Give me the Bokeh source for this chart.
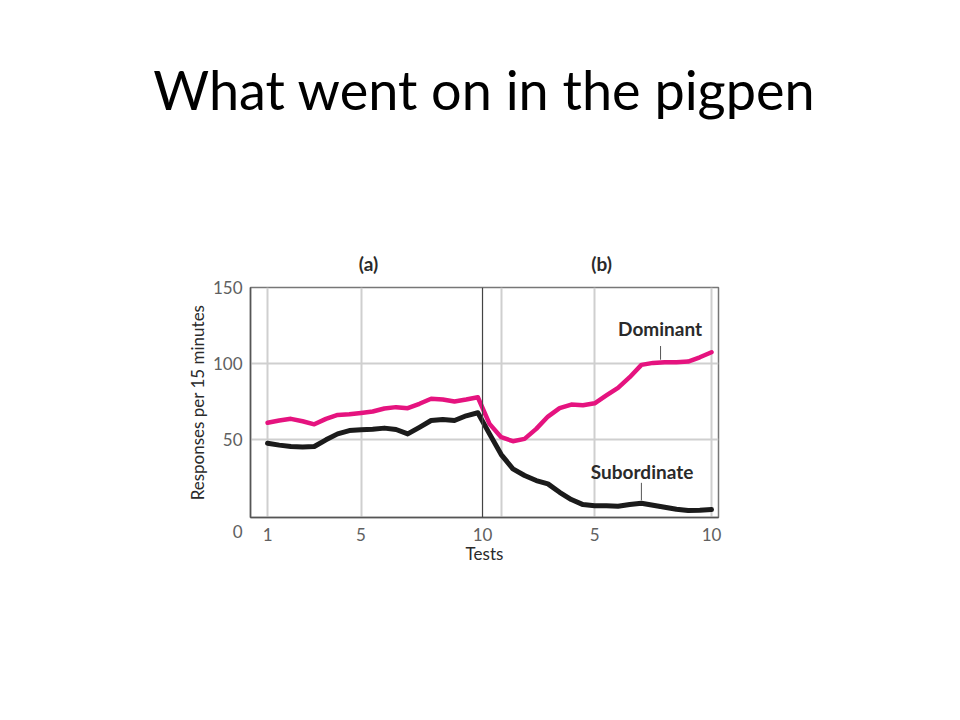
from bokeh.plotting import figure
from bokeh.models import Range1d, FixedTicker, Span, Label, ColumnDataSource, LinearAxis
from bokeh.embed import file_html
from bokeh.resources import INLINE

title_text = "What went on in the pigpen"
panel_labels = ["(a)", "(b)"]
panel_pos = [5.32, 15.3]
# positions along the test axis: (a) tests 1-10 at 1..10, (b) tests 1-10 at 11..20
test_pos = [1, 1.5, 2, 2.5, 3, 3.5, 4, 4.5, 5, 5.5, 6, 6.5, 7, 7.5, 8, 8.5, 9, 9.5, 10,
            10.5, 11, 11.5, 12, 12.5, 13, 13.5, 14, 14.5, 15, 15.5, 16, 16.5, 17, 17.5,
            18, 18.5, 19, 19.5, 20]
dominant = [61.0, 62.5, 63.6, 62.0, 60.0, 63.6, 66.2, 66.6, 67.5, 68.4, 70.4, 71.3, 70.6,
            73.5, 76.8, 76.3, 75.0, 76.3, 77.8, 60.3, 51.5, 48.9, 50.4, 57.0, 65.1, 70.6,
            73.0, 72.6, 73.8, 79.0, 84.0, 91.0, 99.1, 100.4, 100.9, 100.9, 101.3, 104.1, 107.4]
subordinate = [47.6, 46.3, 45.4, 45.0, 45.4, 49.8, 53.7, 55.9, 56.5, 56.8, 57.5, 56.6, 53.7,
               58.0, 62.5, 63.2, 62.5, 65.6, 67.6, 53.7, 40.1, 30.7, 26.3, 23.0, 20.8, 15.3,
               10.5, 7.2, 6.4, 6.4, 6.1, 7.2, 8.1, 6.8, 5.5, 4.1, 3.3, 3.5, 3.9]
x_tick_pos = [1, 5, 10.2, 15, 20]
x_tick_labels = ["1", "5", "10", "5", "10"]
x_grid_pos = [1, 5, 11, 15, 20]
y_ticks = [0, 50, 100, 150]
y_tick_labels = ["\n0", "50", "100", "150"]
y_grid = [50, 100]
separator = 10.2

FONT = "Lato"
PINK = "#e5137f"
BLACK = "#1b1b1b"

src = ColumnDataSource(data=dict(x=test_pos, dom=dominant, sub=subordinate))

p = figure(width=944, height=704, x_range=Range1d(0.27, 20.3), y_range=Range1d(-1.3, 150),
           output_backend="svg", toolbar_location=None,
           min_border_left=250, min_border_right=226, min_border_top=287, min_border_bottom=187)
p.background_fill_color = "white"
p.border_fill_color = "white"
p.outline_line_color = "#777777"
p.outline_line_width = 1.5

p.xaxis.ticker = FixedTicker(ticks=x_tick_pos)
p.xaxis.major_label_overrides = {t: l for t, l in zip(x_tick_pos, x_tick_labels)}
p.yaxis.ticker = FixedTicker(ticks=y_ticks)
p.yaxis.major_label_overrides = {t: l for t, l in zip(y_ticks, y_tick_labels)}
for ax in (p.xaxis, p.yaxis):
    ax.major_tick_line_color = None
    ax.minor_tick_line_color = None
    ax.axis_line_color = "#555555"
    ax.axis_line_width = 1.5
    ax.major_label_text_font = FONT
    ax.major_label_text_font_size = "17px"
    ax.major_label_text_color = "#606060"
    ax.axis_label_text_font = FONT
    ax.axis_label_text_font_size = "17px"
    ax.axis_label_text_font_style = "normal"
    ax.axis_label_text_color = "#2a2a2a"
p.xaxis.major_label_standoff = 4
p.xaxis.axis_label = "Tests"
p.xaxis.axis_label_standoff = -1
p.yaxis.major_label_standoff = 2
p.yaxis.major_label_text_line_height = 1.5
p.yaxis.axis_label = "Responses per 15 minutes"
p.yaxis.axis_label_standoff = 2

# panel labels (a), (b) and the slide title on an axis above the frame
top_axis = LinearAxis(ticker=FixedTicker(ticks=panel_pos),
                      major_label_overrides={t: l for t, l in zip(panel_pos, panel_labels)})
top_axis.axis_line_color = None
top_axis.major_tick_line_color = None
top_axis.minor_tick_line_color = None
top_axis.major_label_standoff = 7
top_axis.major_label_text_font = FONT
top_axis.major_label_text_font_size = "19px"
top_axis.major_label_text_font_style = "bold"
top_axis.major_label_text_color = "#2a2a2a"
top_axis.axis_label = title_text
top_axis.axis_label_standoff = 127
top_axis.axis_label_text_font = FONT
top_axis.axis_label_text_font_size = "54px"
top_axis.axis_label_text_font_style = "normal"
top_axis.axis_label_text_color = "#000000"
p.add_layout(top_axis, "above")

p.xgrid.ticker = FixedTicker(ticks=x_grid_pos)
p.ygrid.ticker = FixedTicker(ticks=y_grid)
for g in (p.xgrid, p.ygrid):
    g.grid_line_color = "#cfcfcf"
    g.grid_line_width = 2

p.add_layout(Span(location=separator, dimension="height", line_color="#444444", line_width=1.2))

p.line("x", "dom", source=src, line_color=PINK, line_width=4.5, line_join="round", line_cap="round")
p.line("x", "sub", source=src, line_color=BLACK, line_width=5, line_join="round", line_cap="round")

# leader lines
p.segment(x0=[17.82, 17.0], y0=[111.5, 21.5], x1=[17.82, 17.0], y1=[102.5, 10.0],
          line_color="#555555", line_width=1)

def lab(x, y, text, size, style="normal", color="#222222"):
    p.add_layout(Label(x=x, y=y, text=text, text_font=FONT, text_font_size=size,
                       text_font_style=style, text_color=color,
                       text_align="center", text_baseline="middle"))

lab(17.8, 123, "Dominant", "19px", "bold", "#2a2a2a")
lab(17.03, 28.8, "Subordinate", "19px", "bold", "#2a2a2a")

open("out.html", "w").write(file_html(p, INLINE))
